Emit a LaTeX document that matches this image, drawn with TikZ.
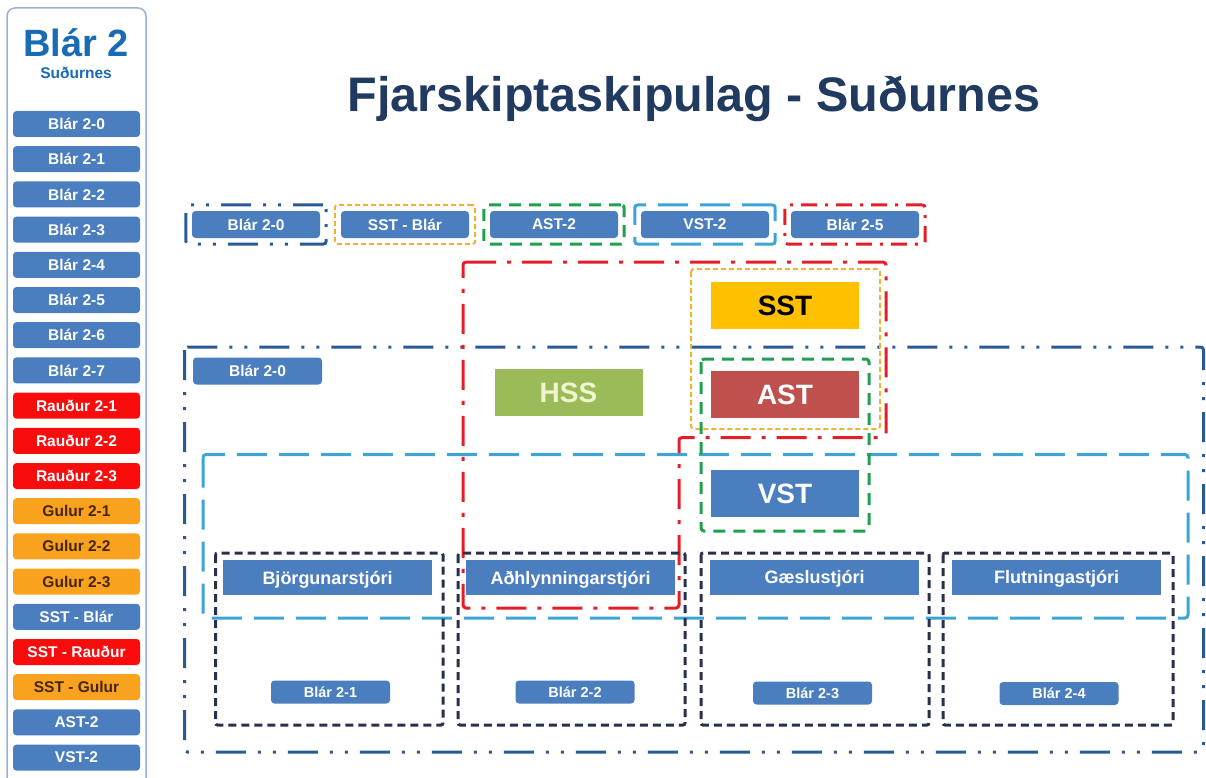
\documentclass[tikz,border=0pt]{standalone}
\usepackage{fontspec}
\setmainfont{Liberation Sans}
\usepackage{xcolor}
\usepackage{tikz}
\usetikzlibrary{fit}

\definecolor{btnblue}{RGB}{74,126,190}
\definecolor{btnred}{RGB}{250,12,12}
\definecolor{btnorange}{RGB}{248,162,30}
\definecolor{orangetext}{RGB}{70,35,10}
\definecolor{titleblue}{RGB}{32,58,96}
\definecolor{headblue}{RGB}{25,108,180}
\definecolor{framedark}{RGB}{40,90,150}
\definecolor{framelight}{RGB}{60,165,215}
\definecolor{framered}{RGB}{228,30,40}
\definecolor{frameyellow}{RGB}{235,180,50}
\definecolor{framegreen}{RGB}{30,160,80}
\definecolor{framenavy}{RGB}{40,48,75}
\definecolor{sstfill}{RGB}{255,192,0}
\definecolor{astfill}{RGB}{192,80,77}
\definecolor{hssfill}{RGB}{155,187,89}
\definecolor{hsstext}{RGB}{238,246,205}
\definecolor{sideborder}{RGB}{150,178,215}

\begin{document}
\begin{tikzpicture}[
    x=1pt, y=-1pt,
    btn/.style={rectangle, rounded corners=3.5pt, inner sep=0pt, minimum width=127pt, minimum height=26pt, font=\bfseries\fontsize{15.5}{17}\selectfont},
    bluebtn/.style={btn, fill=btnblue, text=white},
    redbtn/.style={btn, fill=btnred, text=white},
    orangebtn/.style={btn, fill=btnorange, text=orangetext},
    unitbtn/.style={bluebtn, minimum width=119pt, minimum height=23pt, font=\bfseries\fontsize{14.5}{16}\selectfont},
    rolebox/.style={rectangle, inner sep=0pt, minimum width=148pt, minimum height=47pt, font=\bfseries\fontsize{28}{30}\selectfont},
    chiefbox/.style={rectangle, inner sep=0pt, fill=btnblue, text=white, minimum width=209pt, minimum height=35pt, text height=13pt, text depth=0pt, font=\bfseries\fontsize{18}{20}\selectfont},
    ddotline/.style={draw=framedark, line width=3pt, rounded corners=3pt, dash pattern=on 30pt off 12pt on 3pt off 12pt on 3pt off 12pt},
    lightline/.style={draw=framelight, line width=3pt, rounded corners=3pt, dash pattern=on 30pt off 12pt},
    redline/.style={draw=framered, line width=3pt, rounded corners=3pt, dash pattern=on 30pt off 11pt on 4pt off 11pt},
    yellowline/.style={draw=frameyellow, line width=2pt, rounded corners=3pt, dash pattern=on 5pt off 3pt},
    greenline/.style={draw=framegreen, line width=3pt, rounded corners=3pt, dash pattern=on 12pt off 8pt},
    navyline/.style={draw=framenavy, line width=3pt, rounded corners=2pt, dash pattern=on 8pt off 5pt},
    topframe/.style={inner xsep=6pt, inner ysep=6pt}
]
\useasboundingbox (0,0) rectangle (1206,778);

\draw[draw=sideborder, line width=1.5pt, rounded corners=8pt, fill=white] (7,8) rectangle (146,800);
\node[font=\bfseries\fontsize{38}{40}\selectfont, text=headblue, anchor=base] (sidetitle) at (76,57) {Blár 2};
\node[font=\bfseries\fontsize{15.5}{17}\selectfont, text=headblue, anchor=base] (sidesub) at (76,79) {Suðurnes};

\foreach \lbl/\kind [count=\i from 0] in {Blár 2-0/bluebtn, Blár 2-1/bluebtn, Blár 2-2/bluebtn, Blár 2-3/bluebtn, Blár 2-4/bluebtn, Blár 2-5/bluebtn, Blár 2-6/bluebtn, Blár 2-7/bluebtn, Rauður 2-1/redbtn, Rauður 2-2/redbtn, Rauður 2-3/redbtn, Gulur 2-1/orangebtn, Gulur 2-2/orangebtn, Gulur 2-3/orangebtn, SST - Blár/bluebtn, SST - Rauður/redbtn, SST - Gulur/orangebtn, AST-2/bluebtn, VST-2/bluebtn}
    \node[\kind] (side\i) at (76.5,124+35.2*\i) {\lbl};

\node[font=\bfseries\fontsize{48.5}{50}\selectfont, text=titleblue, anchor=base] (title) at (694,112) {Fjarskiptaskipulag - Suðurnes};

\node[bluebtn, minimum width=128pt, minimum height=27pt] (top0) at (256,224.5) {Blár 2-0};
\node[bluebtn, minimum width=128pt, minimum height=27pt] (top1) at (405,224.5) {SST - Blár};
\node[bluebtn, minimum width=128pt, minimum height=27pt] (top2) at (554,224.5) {AST-2};
\node[bluebtn, minimum width=128pt, minimum height=27pt] (top3) at (705,224.5) {VST-2};
\node[bluebtn, minimum width=128pt, minimum height=27pt] (top4) at (855,224.5) {Blár 2-5};

\node[fit=(top0), topframe, ddotline] (top0frame) {};
\node[fit=(top1), topframe, yellowline] (top1frame) {};
\node[fit=(top2), topframe, greenline] (top2frame) {};
\node[fit=(top3), topframe, lightline] (top3frame) {};
\node[fit=(top4), topframe, redline, dash pattern=on 16pt off 8pt on 3pt off 8pt] (top4frame) {};

\node[rolebox, fill=sstfill, text=black] (sst) at (785,305.5) {SST};
\node[rolebox, fill=astfill, text=white] (ast) at (785,394.5) {AST};
\node[rolebox, fill=btnblue, text=white] (vst) at (785,493.5) {VST};
\node[rolebox, fill=hssfill, text=hsstext] (hss) at (568.5,392.5) {HSS};
\node[bluebtn, minimum width=129pt, minimum height=27pt] (inner0) at (257.5,371) {Blár 2-0};

\node[chiefbox] (bjorg) at (327.5,577.5) {Björgunarstjóri};
\node[chiefbox] (adhl) at (570.5,577.5) {Aðhlynningarstjóri};
\node[chiefbox] (gaesla) at (814.5,577) {Gæslustjóri};
\node[chiefbox] (flutn) at (1056.5,577) {Flutningastjóri};

\node[unitbtn] (unit1) at (330.5,692) {Blár 2-1};
\node[unitbtn] (unit2) at (575,692) {Blár 2-2};
\node[unitbtn] (unit3) at (812.5,693) {Blár 2-3};
\node[unitbtn] (unit4) at (1059,693.5) {Blár 2-4};

\draw[ddotline] (184.5,347) rectangle (1203.5,752);
\draw[lightline] (203,454.5) rectangle (1188,618);
\draw[redline] (463,262) -- (886,262) -- (886,437.5) -- (679,437.5) -- (679,608) -- (463,608) -- cycle;
\draw[yellowline] (691,269) rectangle (880,429);
\draw[greenline] (701,359) rectangle (869,531);

\draw[navyline] (215.5,553) rectangle (443,725);
\draw[navyline] (458,553) rectangle (685,725);
\draw[navyline] (701,553) rectangle (929,725);
\draw[navyline] (943,553) rectangle (1173,725);

\end{tikzpicture}
\end{document}
